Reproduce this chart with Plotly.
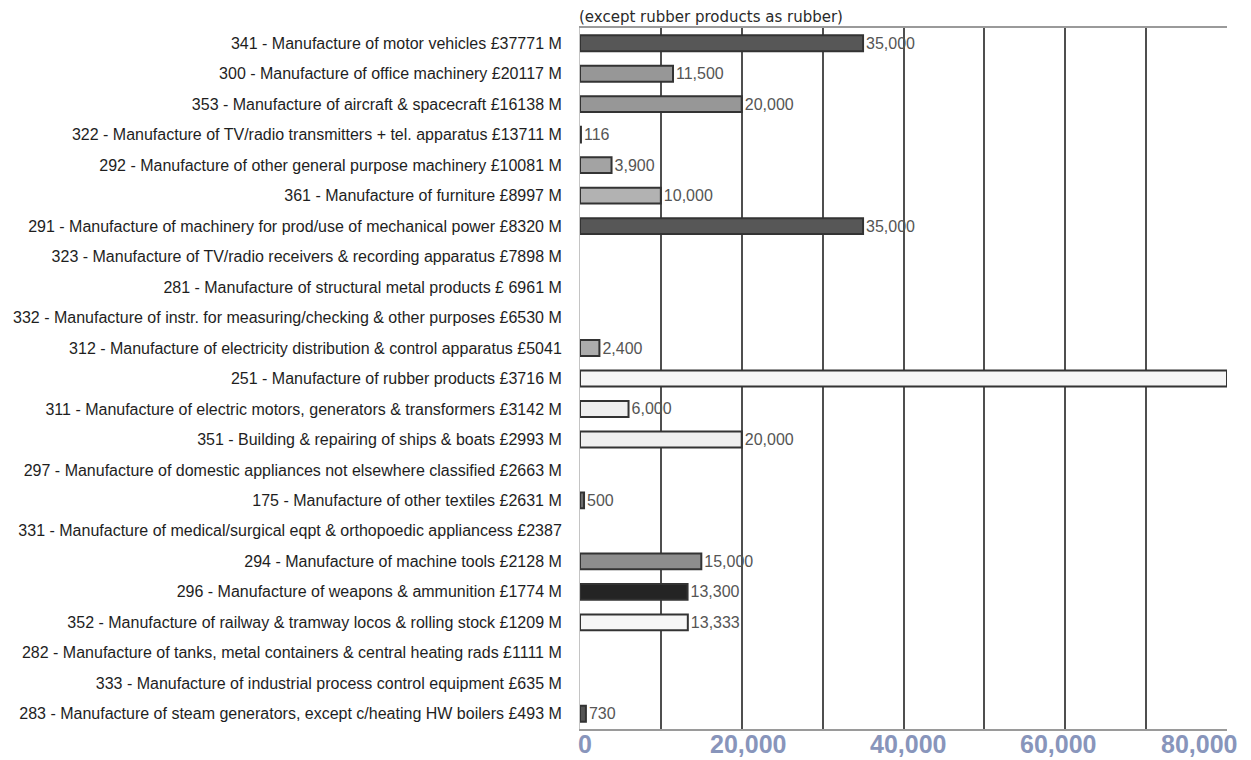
import plotly.graph_objects as go

# Industry sectors (UK SIC code, name, output) listed top to bottom
categories = [
    "341 - Manufacture of motor vehicles £37771 M",
    "300 - Manufacture of office machinery £20117 M",
    "353 - Manufacture of aircraft & spacecraft £16138 M",
    "322 - Manufacture of TV/radio transmitters + tel. apparatus £13711 M",
    "292 - Manufacture of other general purpose machinery £10081 M",
    "361 - Manufacture of furniture £8997 M",
    "291 - Manufacture of machinery for prod/use of mechanical power £8320 M",
    "323 - Manufacture of TV/radio receivers & recording apparatus £7898 M",
    "281 - Manufacture of structural metal products £ 6961 M",
    "332 - Manufacture of instr. for measuring/checking & other purposes £6530 M",
    "312 - Manufacture of electricity distribution & control apparatus £5041",
    "251 - Manufacture of rubber products £3716 M",
    "311 - Manufacture of electric motors, generators & transformers £3142 M",
    "351 - Building & repairing of ships & boats £2993 M",
    "297 - Manufacture of domestic appliances not elsewhere classified £2663 M",
    "175 - Manufacture of other textiles £2631 M",
    "331 - Manufacture of medical/surgical eqpt & orthopoedic appliancess £2387",
    "294 - Manufacture of machine tools £2128 M",
    "296 - Manufacture of weapons & ammunition £1774 M",
    "352 - Manufacture of railway & tramway locos & rolling stock £1209 M",
    "282 - Manufacture of tanks, metal containers & central heating rads £1111 M",
    "333 - Manufacture of industrial process control equipment £635 M",
    "283 - Manufacture of steam generators, except c/heating HW boilers £493 M",
]

# Bar values (None = no bar drawn for that sector)
values = [
    35000, 11500, 20000, 116, 3900, 10000, 35000,
    None, None, None,
    2400, 80000, 6000, 20000,
    None,
    500,
    None,
    15000, 13300, 13333,
    None, None,
    730,
]

# Bottom axis labels
tick_values = [0, 20000, 40000, 60000, 80000]
tick_labels = ["0", "20,000", "40,000", "60,000", "80,000"]

# Styling
bar_fills = [
    "#575757", "#979797", "#979797", "#b5b5b5", "#a3a3a3", "#b2b2b2", "#575757",
    "#ffffff", "#ffffff", "#ffffff",
    "#acacac", "#f5f5f5", "#efefef", "#efefef",
    "#ffffff",
    "#6e6e6e",
    "#ffffff",
    "#8d8d8d", "#242424", "#f6f6f6",
    "#ffffff", "#ffffff",
    "#555555",
]
x_max = 80000
tick_label_nudge_px = [5, 6, 4, -7, -28]

# Value labels; the one that reaches the axis end runs off the chart
value_text = [
    (f"{v:,}" if (v is not None and v < x_max) else "") for v in values
]

fig = go.Figure()
fig.add_trace(
    go.Bar(
        y=categories,
        x=values,
        orientation="h",
        width=0.52,
        marker=dict(color=bar_fills, line=dict(color="#333333", width=2)),
        text=value_text,
        textposition="outside",
        textangle=0,
        constraintext="none",
        cliponaxis=True,
        textfont=dict(family="Liberation Sans", size=16, color="#555555"),
        hoverinfo="skip",
        showlegend=False,
    )
)

for tv, tl, nudge in zip(tick_values, tick_labels, tick_label_nudge_px):
    fig.add_annotation(
        x=tv, xref="x", y=0, yref="paper",
        text=tl, showarrow=False,
        xanchor="center", yanchor="bottom",
        xshift=nudge, yshift=-31,
        font=dict(family="Liberation Sans", size=25, color="#8895bb", weight="bold"),
    )

fig.add_annotation(
    x=0, xref="paper", y=1, yref="paper",
    text="(except rubber products as rubber)",
    showarrow=False, xanchor="left", yanchor="bottom",
    xshift=-3, yshift=0,
    font=dict(family="DejaVu Sans", size=15, color="#2a2a2a"),
)

fig.update_xaxes(
    range=[0, x_max],
    tick0=0, dtick=10000,
    showticklabels=False,
    ticks="",
    showgrid=True, gridcolor="#4f4f4f", gridwidth=2,
    zeroline=False,
    showline=True, linecolor="#9a9a9a", linewidth=2, mirror=True,
    fixedrange=True,
)
fig.update_yaxes(
    categoryorder="array",
    categoryarray=categories,
    autorange="reversed",
    showgrid=False,
    zeroline=False,
    showline=True, linecolor="#c4c4c4", linewidth=1,
    ticks="",
    ticklabelstandoff=14,
    tickfont=dict(family="Liberation Sans", size=16, color="#1e1e1e"),
    automargin=False,
    fixedrange=True,
)

fig.update_layout(
    width=1251, height=760,
    margin=dict(l=580, r=24, t=28, b=31, autoexpand=False),
    plot_bgcolor="#ffffff",
    paper_bgcolor="#ffffff",
    bargap=0.48,
)

fig.write_html("out.html", config={"displayModeBar": False})
